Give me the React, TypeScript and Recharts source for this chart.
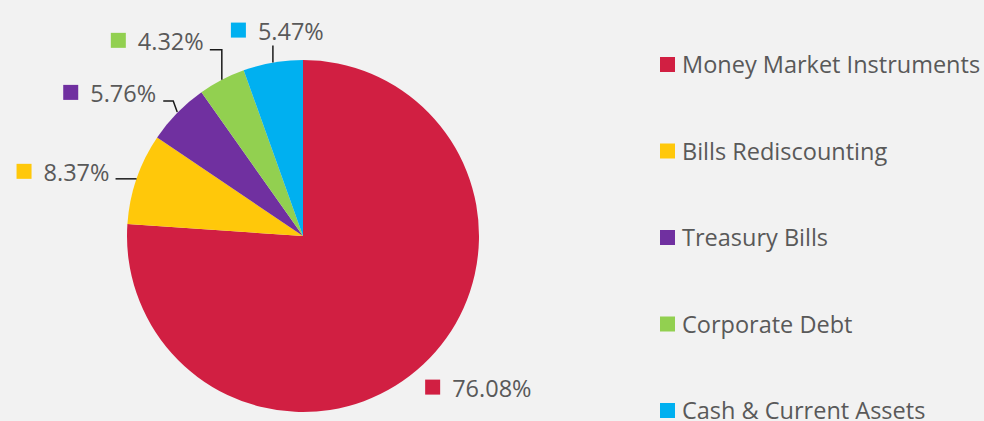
import React from "react";
import { PieChart, Pie, Cell, Legend } from "recharts";

document.body.style.margin = "0";

const categories = [
  "Money Market Instruments",
  "Bills Rediscounting",
  "Treasury Bills",
  "Corporate Debt",
  "Cash & Current Assets",
];
const shares = [76.08, 8.37, 5.76, 4.32, 5.47];
const colors = ["#D11F42", "#FFC80A", "#7030A0", "#92D050", "#00B0F0"];

const data = categories.map((name, i) => ({ name, value: shares[i], color: colors[i] }));

const FONT = "'Open Sans', sans-serif";
const FONT_SIZE = 23.5;
const TEXT = "#595959";
const RAD = Math.PI / 180;

// label placement relative to the slice edge point (marker top-left + leader line)
const labelLayout = [
  { mx: 2, my: 15, line: [] as number[][] },
  { mx: -120, my: -15, line: [[0, 0], [-21, 0]] },
  { mx: -114, my: -28, line: [[0, -1], [-4, -12], [-14, -12]] },
  { mx: -111, my: -47, line: [[0, 0], [0, -30], [-12, -30]] },
  { mx: -42, my: -40, line: [[0, 0], [0, -17]] },
];

const renderLabel = (props: any) => {
  const { cx, cy, midAngle, outerRadius, index, value } = props;
  const ex = cx + outerRadius * Math.cos(-midAngle * RAD);
  const ey = cy + outerRadius * Math.sin(-midAngle * RAD);
  const l = labelLayout[index];
  const mx = ex + l.mx;
  const my = ey + l.my;
  return (
    <g key={`lbl-${index}`}>
      {l.line.length > 0 && (
        <polyline
          points={l.line.map(([dx, dy]) => `${ex + dx},${ey + dy}`).join(" ")}
          fill="none"
          stroke="#1a1a1a"
          strokeWidth={1.5}
        />
      )}
      <rect x={mx} y={my} width={15} height={15} fill={colors[index]} />
      <text x={mx + 27} y={my + 17} fontSize={FONT_SIZE} fontFamily={FONT} fill={TEXT}>
        {`${value.toFixed(2)}%`}
      </text>
    </g>
  );
};

const renderLegend = (props: any) => {
  const payload = [...(props.payload || [])].sort(
    (a: any, b: any) => categories.indexOf(a.value) - categories.indexOf(b.value)
  );
  return (
    <svg width={324} height={421}>
      {payload.map((entry: any, i: number) => {
        const top = 57 + i * 86.5;
        return (
          <g key={entry.value}>
            <rect x={0} y={top} width={15} height={15} fill={entry.color} />
            <text x={22} y={top + 16} fontSize={FONT_SIZE} fontFamily={FONT} fill={TEXT}>
              {entry.value}
            </text>
          </g>
        );
      })}
    </svg>
  );
};

export default function App() {
  return (
    <div style={{ width: 984, height: 421, background: "#F2F2F2", overflow: "hidden" }}>
      <PieChart width={984} height={421} margin={{ top: 0, right: 0, bottom: 0, left: 0 }}>
        <Pie
          data={data}
          dataKey="value"
          nameKey="name"
          cx={303}
          cy={236}
          outerRadius={176}
          startAngle={90}
          endAngle={-270}
          stroke="none"
          label={renderLabel}
          labelLine={false}
          isAnimationActive={false}
        >
          {data.map((d) => (
            <Cell key={d.name} fill={d.color} />
          ))}
        </Pie>
        <Legend
          layout="vertical"
          align="right"
          verticalAlign="top"
          content={renderLegend}
          wrapperStyle={{ position: "absolute", left: 660, top: 0, width: 324, height: 421 }}
        />
      </PieChart>
    </div>
  );
}
